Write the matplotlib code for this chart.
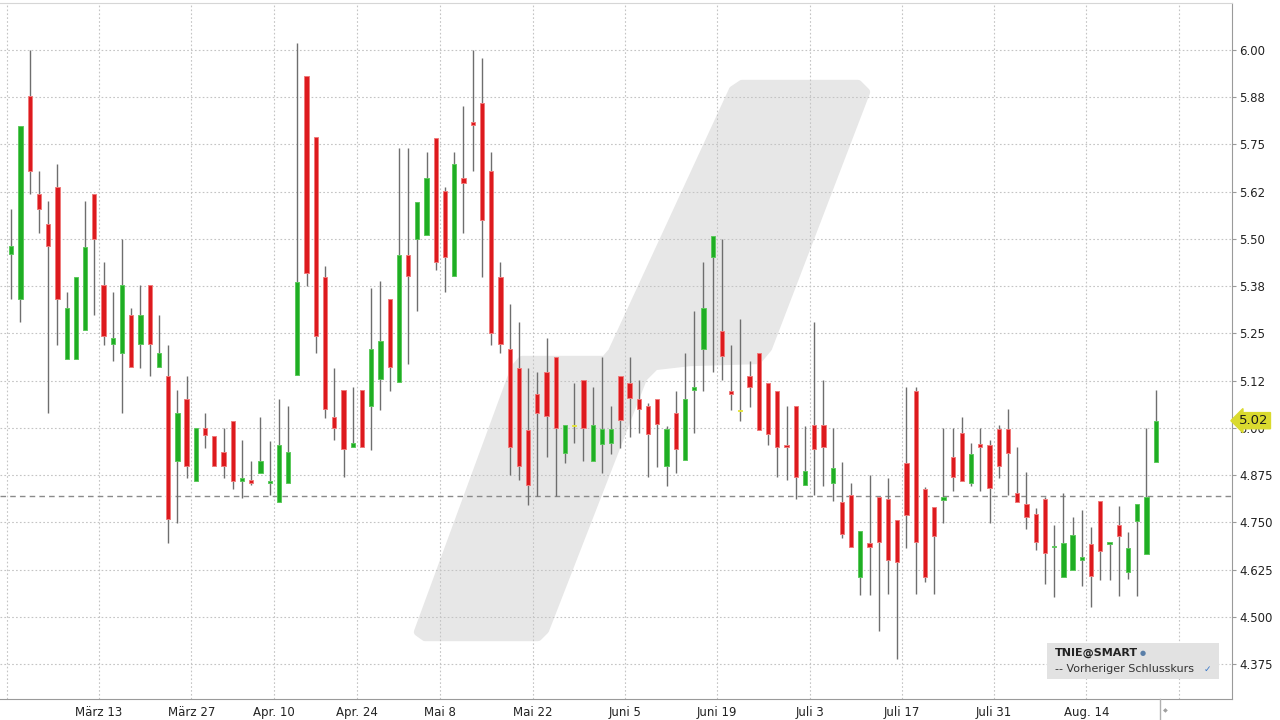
import numpy as np
import pandas as pd
import matplotlib
matplotlib.use('Agg')
import matplotlib.pyplot as plt
import matplotlib.transforms as mtransforms
from matplotlib.patches import Polygon, Rectangle
from matplotlib.lines import Line2D

# Tageskerzen TNIE@SMART (Eröffnung, Hoch, Tief, Schluss)
opens = [5.460, 5.342, 5.879, 5.620, 5.540, 5.638, 5.182, 5.182, 5.260, 5.620,
         5.378, 5.221, 5.199, 5.298, 5.221, 5.378, 5.160, 5.136, 4.911, 5.077,
         4.860, 4.999, 4.979, 4.937, 5.019, 4.860, 4.861, 4.880, 4.853, 4.805,
         4.855, 5.140, 5.930, 5.769, 5.399, 5.029, 5.099, 4.949, 5.099, 5.059,
         5.130, 5.340, 5.121, 5.458, 5.500, 5.511, 5.768, 5.628, 5.402, 5.660,
         5.810, 5.860, 5.679, 5.399, 5.208, 5.158, 4.993, 5.089, 5.149, 5.188,
         4.934, 5.006, 5.127, 4.911, 4.957, 4.961, 5.137, 5.118, 5.076, 5.058,
         5.076, 4.899, 5.038, 4.915, 5.100, 5.210, 5.451, 5.257, 5.097, 5.046,
         5.137, 5.197, 5.118, 5.097, 4.954, 5.058, 4.849, 5.007, 5.007, 4.855,
         4.803, 4.821, 4.604, 4.695, 4.817, 4.812, 4.756, 4.908, 5.098, 4.838,
         4.791, 4.810, 4.922, 4.987, 4.855, 4.958, 4.954, 4.998, 4.998, 4.828,
         4.798, 4.773, 4.812, 4.684, 4.604, 4.624, 4.650, 4.692, 4.806, 4.693,
         4.742, 4.618, 4.754, 4.665, 4.910]
highs = [5.580, 5.800, 6.000, 5.680, 5.600, 5.699, 5.359, 5.399, 5.600, 5.620,
         5.439, 5.359, 5.500, 5.318, 5.378, 5.378, 5.298, 5.219, 5.099, 5.138,
         4.999, 5.039, 4.979, 4.999, 5.019, 4.968, 4.913, 5.029, 4.964, 5.077,
         5.058, 6.019, 5.930, 5.769, 5.429, 5.158, 5.099, 5.108, 5.099, 5.370,
         5.389, 5.340, 5.740, 5.740, 5.599, 5.730, 5.768, 5.638, 5.730, 5.851,
         6.000, 5.980, 5.730, 5.438, 5.327, 5.280, 5.158, 5.149, 5.239, 5.188,
         5.007, 5.118, 5.127, 5.107, 5.188, 5.058, 5.137, 5.188, 5.127, 5.067,
         5.076, 5.006, 5.098, 5.197, 5.309, 5.438, 5.508, 5.500, 5.218, 5.288,
         5.178, 5.197, 5.118, 5.097, 5.058, 5.058, 5.006, 5.280, 5.127, 4.999,
         4.909, 4.854, 4.727, 4.874, 4.817, 4.867, 4.756, 5.107, 5.107, 4.843,
         4.791, 4.999, 4.999, 5.029, 4.959, 4.999, 4.968, 5.007, 5.049, 4.948,
         4.882, 4.789, 4.816, 4.743, 4.828, 4.764, 4.783, 4.737, 4.806, 4.697,
         4.793, 4.723, 4.798, 4.999, 5.099]
lows = [5.340, 5.279, 5.619, 5.517, 5.039, 5.219, 5.182, 5.182, 5.260, 5.298,
        5.219, 5.178, 5.039, 5.160, 5.158, 5.136, 5.160, 4.696, 4.747, 4.868,
        4.860, 4.946, 4.900, 4.867, 4.838, 4.815, 4.848, 4.880, 4.822, 4.805,
        4.855, 5.140, 5.376, 5.198, 5.027, 4.968, 4.871, 4.949, 4.949, 4.941,
        5.048, 5.098, 5.121, 5.169, 5.308, 5.511, 5.418, 5.359, 5.402, 5.517,
        5.679, 5.399, 5.218, 5.197, 4.875, 4.862, 4.797, 4.820, 4.922, 4.820,
        4.908, 4.959, 4.913, 4.911, 4.881, 4.932, 4.946, 4.977, 4.987, 4.871,
        4.897, 4.847, 4.881, 4.915, 4.987, 5.098, 5.149, 5.126, 5.046, 5.018,
        5.056, 4.994, 4.954, 4.871, 4.862, 4.811, 4.849, 4.821, 4.847, 4.806,
        4.708, 4.684, 4.557, 4.557, 4.462, 4.560, 4.388, 4.681, 4.561, 4.592,
        4.561, 4.747, 4.833, 4.860, 4.847, 4.833, 4.749, 4.866, 4.821, 4.805,
        4.732, 4.677, 4.588, 4.551, 4.604, 4.624, 4.582, 4.526, 4.596, 4.596,
        4.556, 4.601, 4.556, 4.665, 4.910]
closes = [5.480, 5.800, 5.681, 5.580, 5.482, 5.342, 5.318, 5.399, 5.479, 5.500,
          5.242, 5.238, 5.378, 5.160, 5.298, 5.221, 5.198, 4.759, 5.039, 4.900,
          4.999, 4.980, 4.900, 4.900, 4.860, 4.867, 4.855, 4.912, 4.859, 4.954,
          4.936, 5.387, 5.411, 5.242, 5.050, 4.999, 4.944, 4.959, 4.949, 5.209,
          5.229, 5.160, 5.458, 5.402, 5.599, 5.660, 5.440, 5.451, 5.698, 5.649,
          5.802, 5.551, 5.250, 5.221, 4.949, 4.900, 4.850, 5.040, 5.031, 5.000,
          5.007, 5.006, 5.000, 5.007, 4.998, 4.997, 5.021, 5.078, 5.050, 4.985,
          5.009, 4.998, 4.943, 5.076, 5.108, 5.317, 5.508, 5.189, 5.090, 5.046,
          5.109, 4.994, 4.985, 4.948, 4.948, 4.869, 4.886, 4.943, 4.949, 4.894,
          4.719, 4.684, 4.727, 4.684, 4.698, 4.650, 4.646, 4.769, 4.698, 4.604,
          4.715, 4.816, 4.869, 4.860, 4.932, 4.949, 4.840, 4.900, 4.934, 4.805,
          4.765, 4.699, 4.670, 4.687, 4.696, 4.717, 4.658, 4.609, 4.674, 4.697,
          4.715, 4.682, 4.798, 4.818, 5.019]

prev_close = 4.82
last_price = 5.019

# Kalender (Börsentage, ohne Feiertage)
holidays = pd.to_datetime(['2023-04-07', '2023-04-10', '2023-05-01'])
tick_dates = ['2023-02-27', '2023-03-13', '2023-03-27', '2023-04-10', '2023-04-24',
              '2023-05-08', '2023-05-22', '2023-06-05', '2023-06-19', '2023-07-03',
              '2023-07-17', '2023-07-31', '2023-08-14', '2023-08-28']
tick_labels = ['', 'März 13', 'März 27', 'Apr. 10', 'Apr. 24', 'Mai 8', 'Mai 22',
               'Juni 5', 'Juni 19', 'Juli 3', 'Juli 17', 'Juli 31', 'Aug. 14', '']
y_ticks = [4.375, 4.5, 4.625, 4.75, 4.875, 5.0, 5.125, 5.25, 5.375, 5.5,
           5.625, 5.75, 5.875, 6.0]
y_labels = ['4.375', '4.500', '4.625', '4.750', '4.875', '5.00', '5.12', '5.25',
            '5.38', '5.50', '5.62', '5.75', '5.88', '6.00']

days = pd.bdate_range('2023-02-27', '2023-09-15')
days = days[~days.isin(holidays)]
tick_pos = [days.searchsorted(pd.Timestamp(d)) - 0.5 for d in tick_dates]

plt.rcParams['font.family'] = 'DejaVu Sans'

W, H = 1280, 720
fig = plt.figure(figsize=(12.8, 7.2), dpi=100)
ax = fig.add_axes([0, 21 / H, 1232 / W, 696 / H])
ax.set_xlim(-1.22, 132.27)
ax.set_ylim(4.2823, 6.1245)

# Logo im Hintergrund (Pixelkoordinaten im Achsenbereich)
logo_px = [(418, 632), (515, 368), (522, 360), (605, 360), (612, 352), (733, 90),
           (742, 84), (858, 84), (866, 92), (768, 348), (758, 360), (690, 362),
           (655, 366), (643, 378), (545, 630), (538, 637), (425, 637)]
logo = [(x / 1232, 1 - (y - 3) / 696) for x, y in logo_px]
ax.add_patch(Polygon(logo, closed=True, transform=ax.transAxes, facecolor='#e7e7e7',
                     edgecolor='#e7e7e7', linewidth=6, joinstyle='round', zorder=0))

# Gitter
for p in tick_pos:
    ax.axvline(p, color='#c4c4c4', lw=0.8, ls=(0, (1.5, 2)), zorder=1)
for y in y_ticks:
    ax.axhline(y, color='#c4c4c4', lw=0.8, ls=(0, (1.5, 2)), zorder=1)

# Vorheriger Schlusskurs
ax.axhline(prev_close, color='#8a8a8a', lw=1, ls=(0, (4, 3)), zorder=2)

# Kerzen
x = np.arange(len(opens))
o = np.array(opens)
c = np.array(closes)
ax.vlines(x, lows, highs, color='#6e6e6e', lw=1, zorder=3)
face = np.where(c > o, '#1fae24', np.where(c < o, '#dd1a1e', '#e3e33a'))
edge = np.where(c > o, '#5cc95c', np.where(c < o, '#f07a7a', '#e3e33a'))
body_h = np.maximum(np.abs(c - o), 0.004)
body_b = np.where(c == o, o - 0.002, np.minimum(o, c))
ax.bar(x, body_h, bottom=body_b, width=0.46, color=face, edgecolor=edge,
       linewidth=0.7, zorder=4)

# Achsen
for s in ['left']:
    ax.spines[s].set_visible(False)
ax.spines['top'].set_color('#d6d6d6')
ax.spines['right'].set_color('#9a9a9a')
ax.spines['bottom'].set_color('#9a9a9a')
ax.yaxis.tick_right()
ax.set_yticks(y_ticks)
ax.set_yticklabels(y_labels)
ax.set_xticks(tick_pos)
ax.set_xticklabels(tick_labels)
ax.tick_params(axis='y', length=3, color='#9a9a9a', pad=2, labelsize=8.5, labelcolor='#222222')
ax.tick_params(axis='x', length=0, pad=5, labelsize=8.5, labelcolor='#222222')

# Letzter Kurs
trans = mtransforms.blended_transform_factory(ax.transAxes, ax.transData)
ax.text(1.006, last_price, f'{last_price:.2f}', transform=trans, ha='left', va='center',
        fontsize=9.5, color='#1a1a1a', zorder=6, clip_on=False,
        bbox=dict(boxstyle='larrow,pad=0.12', facecolor='#dada2e', edgecolor='#dada2e'))

# Legende
ax.add_patch(Rectangle((1047 / 1232, (699 - 679) / 696), 172 / 1232, 36 / 696,
                       transform=ax.transAxes, facecolor='#e2e2e2', edgecolor='none', zorder=5))
ax.text(1055 / 1232, (699 - 653) / 696, 'TNIE@SMART', transform=ax.transAxes,
        fontsize=8, fontweight='bold', color='#222222', va='center', zorder=6)
ax.text(1140 / 1232, (699 - 653) / 696, '●', transform=ax.transAxes,
        fontsize=5, color='#5a7fa8', va='center', zorder=6)
ax.text(1055 / 1232, (699 - 669) / 696, '-- Vorheriger Schlusskurs', transform=ax.transAxes,
        fontsize=8, color='#333333', va='center', zorder=6)
ax.text(1204 / 1232, (699 - 669) / 696, '✓', transform=ax.transAxes,
        fontsize=6.5, color='#3a78c8', va='center', zorder=6)

# Scroll-Markierung unten rechts
fig.add_artist(Line2D([1160 / W, 1160 / W], [0, 21 / H], color='#b0b0b0', lw=1))
fig.text(1165 / W, 1 - 711 / H, '◆', fontsize=4.5, color='#a0a0a0', ha='center', va='center')

plt.savefig('out.png', dpi=100)
